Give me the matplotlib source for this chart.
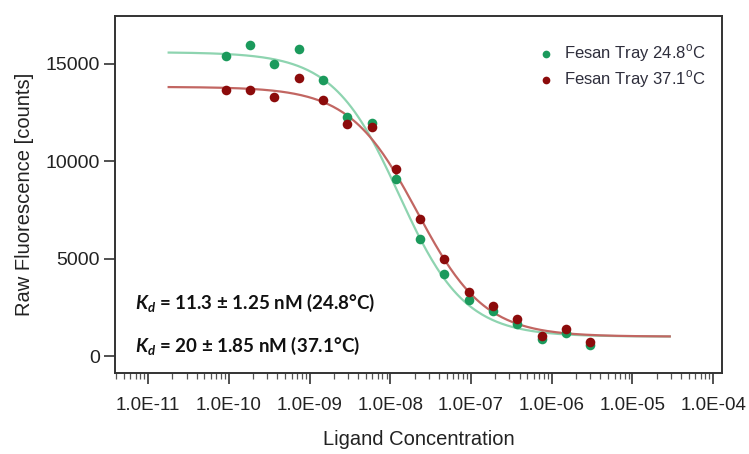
import numpy as np
import matplotlib
matplotlib.use("Agg")
import matplotlib.pyplot as plt
from matplotlib.ticker import LogLocator, FixedLocator, FuncFormatter, NullFormatter

# ligand concentrations (M), 16-point dilution series
conc = [9.16e-11, 1.83e-10, 3.66e-10, 7.32e-10, 1.46e-9, 2.93e-9, 5.86e-9, 1.17e-8,
        2.34e-8, 4.69e-8, 9.38e-8, 1.88e-7, 3.75e-7, 7.5e-7, 1.5e-6, 3.0e-6]

# raw fluorescence
green_counts = [15420, 15960, 14980, 15780, 14180, 12290, 11950, 9080,
                6010, 4200, 2880, 2330, 1640, 860, 1200, 570]
red_counts = [13650, 13650, 13290, 14280, 13160, 11900, 11750, 9590,
              7040, 4980, 3310, 2570, 1890, 1040, 1370, 720]

# fit parameters (Kd model)
kd_green = 11.3e-9
kd_red = 20e-9
target = 3e-9
top_green, bottom_green = 15600, 1000
top_red, bottom_red = 13820, 1000
fit_range = (1.8e-11, 2.9e-5)

labels = ["Fesan Tray 24.8$^{\\mathregular{o}}$C", "Fesan Tray 37.1$^{\\mathregular{o}}$C"]
kd_texts = [r"$\mathbfit{K_d}$ = 11.3 ± 1.25 nM (24.8°C)",
            r"$\mathbfit{K_d}$ = 20 ± 1.85 nM (37.1°C)"]

GREEN_DOT = "#1b9a5c"
RED_DOT = "#8c0b0b"
GREEN_LINE = "#8ed4b0"
RED_LINE = "#c26662"


def kd_model(c, kd, top, bottom, t):
    s = c + t + kd
    frac = (s - np.sqrt(s ** 2 - 4 * c * t)) / (2 * t)
    return top - (top - bottom) * frac


plt.rcParams['font.family'] = ['Liberation Sans', 'DejaVu Sans']
plt.rcParams['mathtext.fontset'] = 'custom'
plt.rcParams['mathtext.bfit'] = 'Lato:bold:italic'
plt.rcParams['mathtext.rm'] = 'Liberation Sans'

fig = plt.figure(figsize=(7.49, 4.54), dpi=100)
ax = fig.add_axes([0.1535, 0.1784, 0.8105, 0.7864])

xs = np.logspace(np.log10(fit_range[0]), np.log10(fit_range[1]), 300)
ax.plot(xs, kd_model(xs, kd_green, top_green, bottom_green, target), color=GREEN_LINE, lw=1.6, zorder=2)
ax.plot(xs, kd_model(xs, kd_red, top_red, bottom_red, target), color=RED_LINE, lw=1.6, zorder=2)

ax.scatter(conc, green_counts, s=48, color=GREEN_DOT, label=labels[0], zorder=3, linewidths=0)
ax.scatter(conc, red_counts, s=48, color=RED_DOT, label=labels[1], zorder=4, linewidths=0)

ax.set_xscale('log')
ax.set_xlim(10 ** -11.41, 10 ** -3.89)
ax.set_ylim(-870, 17460)

ax.xaxis.set_major_locator(FixedLocator([1e-11, 1e-10, 1e-9, 1e-8, 1e-7, 1e-6, 1e-5, 1e-4]))
ax.xaxis.set_major_formatter(FuncFormatter(lambda v, p: f"{v:.1E}"))
ax.xaxis.set_minor_locator(LogLocator(base=10, subs=np.arange(2, 10), numticks=20))
ax.xaxis.set_minor_formatter(NullFormatter())
ax.set_yticks([0, 5000, 10000, 15000])

ax.tick_params(axis='x', which='major', direction='out', length=8, width=1.2, pad=9,
               labelsize=13.5, colors='#333333', labelcolor='#222222')
ax.tick_params(axis='x', which='minor', direction='out', length=4, width=0.9, colors='#555555')
ax.tick_params(axis='y', which='major', direction='out', length=8, width=1.2, pad=3,
               labelsize=14, colors='#333333', labelcolor='#222222')

for sp in ax.spines.values():
    sp.set_linewidth(1.4)
    sp.set_color('#333333')

ax.set_ylabel("Raw Fluorescence [counts]", fontsize=14.5, color='#222222', labelpad=8)
ax.set_xlabel("Ligand Concentration", fontsize=14.5, color='#222222', labelpad=12)

leg = ax.legend(loc='upper right', bbox_to_anchor=(0.99, 0.955), frameon=False, fontsize=12,
                handletextpad=0.1, labelspacing=0.3, borderaxespad=0.2, scatterpoints=1,
                markerscale=0.8)
for t in leg.get_texts():
    t.set_color('#2e2e3c')

ax.text(0.033, 0.195, kd_texts[0], transform=ax.transAxes, fontsize=13.5, family='Lato',
        fontweight='bold', color='#111111', va='center')
ax.text(0.033, 0.075, kd_texts[1], transform=ax.transAxes, fontsize=13.5, family='Lato',
        fontweight='bold', color='#111111', va='center')

fig.savefig("out.png", dpi=100)
